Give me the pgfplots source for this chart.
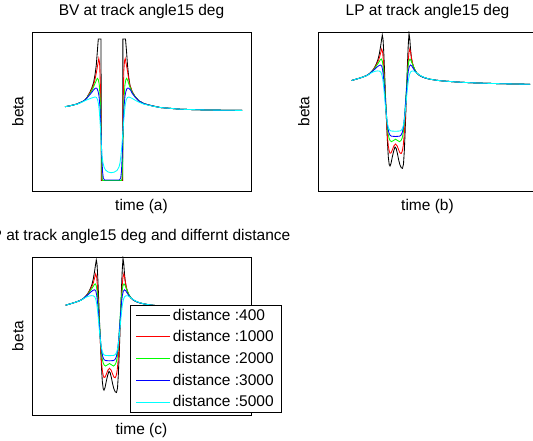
\documentclass[border=0pt]{standalone}
\usepackage{fontspec}
\setmainfont{Liberation Sans}
\usepackage{pgfplots}
\usepackage{pgfplotstable}
\pgfplotsset{compat=1.18}
\definecolor{mblack}{rgb}{0,0,0}
\definecolor{mred}{rgb}{1,0,0}
\definecolor{mgreen}{rgb}{0,1,0}
\definecolor{mblue}{rgb}{0,0,1}
\definecolor{mcyan}{rgb}{0,1,1}

% ---------------- BV data ----------------
\pgfplotstableread{
x y
33 84.3
37 85
41.3 86
45 87
48 88.3
51 89.7
53 91
55 93.5
56.3 96
58 99
59.7 102.7
61.5 108
63 116
64.3 126
65.3 139
66.3 152
69 152
69.3 10.5
90.6 10.5
90.9 152
93.5 152
94.5 140
95.5 126
96.7 114
98 105.5
100.3 99
103 94.5
107 90
112 87.3
118.7 85.5
128 83.5
140 82.5
148 81.8
160 81.4
175 81
190 80.8
210 80.6
}\bvA
\pgfplotstableread{
x y
33 84.3
37 85
41.3 86
45 87
48 88.3
51 89.7
53 91
55 93.5
56.3 95.8
58 98.5
59.7 101.5
61.5 106
63 111.5
64.3 118
65.5 125
66.8 132.5
67.6 128
68.4 105
69 70
69.5 30
69.9 10.5
90.2 10.5
90.7 40
91.2 90
91.8 120
92.5 130
93.2 132.5
94.2 127
95.5 120
96.7 112
98 105
100.3 99
103 94.5
107 90
112 87.3
118.7 85.5
128 83.5
140 82.5
148 81.8
160 81.4
175 81
190 80.8
210 80.6
}\bvB
\pgfplotstableread{
x y
33 84.3
37 85
41.3 86
45 87
48 88.3
51 89.7
53 91
55 93.3
56.3 95.2
58 97.5
59.7 100
61.5 104
63 107.5
64.3 110.5
65.3 112.7
66.3 111.5
67.3 106
68.3 90
69 60
69.6 30
70.2 12
70.8 10.5
89.4 10.5
90 12
90.6 30
91.2 60
91.9 90
92.9 106
93.9 111.5
94.7 112.7
95.7 110.5
97 106.5
98.5 102.5
100.3 98.5
103 94.5
107 90
112 87.3
118.7 85.5
128 83.5
140 82.5
148 81.8
160 81.4
175 81
190 80.8
210 80.6
}\bvC
\pgfplotstableread{
x y
33 84.3
37 85
41.3 86
45 87
48 88.3
51 89.7
53 91
55 93
56.3 94.5
58 96.5
59.7 98.5
61.5 101
63 102.5
64 103
65 102.5
66 100
67 95
68 84
69 60
69.8 35
70.5 20
71.3 13
72.5 11
87.5 11
88.7 13
89.5 20
90.2 35
91 60
92 84
93 95
94 100
95 102.5
96 103
97 102.5
98.5 101
100.3 97.5
103 94
107 90
112 87.3
118.7 85.5
128 83.5
140 82.5
148 81.8
160 81.4
175 81
190 80.8
210 80.6
}\bvD
\pgfplotstableread{
x y
33 84.3
37 85
41.3 86
45 86.8
48 88
51 89.3
53 90.3
56.3 91.7
59.7 93
62 93.8
63.3 94
64.5 93.5
65.5 91.5
66.5 87
67.5 78
68.5 62
69.3 46
70 35
71 28
72 24
73.5 21
76 19
79 18.3
82 18.8
85 20.5
87 24
88 28
89 36
90 47
91 61
92.2 76
93.2 86
94.3 91.5
95.5 93.5
96.7 94
98 93.6
100.3 92.5
103.7 90.5
107 88.8
112 86.8
118.7 85.3
128 83.5
140 82.5
148 81.8
160 81.4
175 81
190 80.8
210 80.6
}\bvE

% ---------------- LP data ----------------
\pgfplotstableread{
x y
33.7 110.5
38 111.8
42 113
45.5 114.2
48.7 115.5
51.5 117.3
53.7 119.5
55.5 121.8
57 124.3
58.5 127.5
60 131.5
61.3 137
62.5 144
63.5 151
64.3 156
65 152
65.7 140
66.5 121
67.3 100
68 82
68.7 66
69.5 48
70.3 34
71.2 26.5
72 25
73 27.5
74.3 34
75.8 40.5
77 44
78.2 42.5
79.5 37
80.8 30.5
82 26
83.3 23.2
84.5 22.7
85.5 27
86.3 40
87 56
87.8 78
88.6 102
89.4 125
90.2 145
91 157.7
91.8 152
92.5 142
93.3 134
94.3 128
95.5 124
97 120.5
99 117.7
101.5 115.6
104.5 114
108 112.8
112 111.8
118 110.8
125 110
132 109.5
142 108.8
152 108.3
162 107.9
172 107.6
182 107.3
192 107.1
202 106.9
212 106.7
}\lpA
\pgfplotstableread{
x y
33.7 110.5
38 111.8
42 113
45.5 114.2
48.7 115.5
51.5 117.3
53.7 119.5
55.5 121.5
57 123.8
58.5 126.5
60 129.5
61.3 133
62.5 137.5
63.7 142
64.6 139
65.4 130
66.2 116
67 100
67.8 84
68.6 68
69.4 55
70.3 45
71.2 40
72 37.8
73 38
74.3 41
75.8 45
77.5 47
79.2 45
80.7 41
82 38
83.2 37.5
84.2 39.5
85.2 45
86.1 55
87 68
87.8 84
88.6 100
89.4 116
90.2 130
91 139
91.8 142
92.7 138
93.5 133
94.5 128
95.7 124
97 120.7
99 117.7
101.5 115.6
104.5 114
108 112.8
112 111.8
118 110.8
125 110
132 109.5
142 108.8
152 108.3
162 107.9
172 107.6
182 107.3
192 107.1
202 106.9
212 106.7
}\lpB
\pgfplotstableread{
x y
33.7 110.5
38 111.8
42 113
45.5 114.2
48.7 115.5
51.5 117.3
53.7 119.4
55.5 121
57 123
58.5 125.3
60 127.5
61.3 129.5
62.3 131.2
63.3 132
64.3 130
65.2 124
66 115
66.8 103
67.6 90
68.4 77
69.2 66
70 58
71 53
72 50.5
73.5 49.3
75.5 50.5
77.5 51.8
79.5 50.5
81.5 49.3
83 50.5
84.2 53
85.2 58
86 66
86.8 77
87.6 90
88.4 103
89.2 115
90 124
90.9 130
92 132
93 130.5
94 128
95.5 124.5
97 121
99 117.7
101.5 115.6
104.5 114
108 112.8
112 111.8
118 110.8
125 110
132 109.5
142 108.8
152 108.3
162 107.9
172 107.6
182 107.3
192 107.1
202 106.9
212 106.7
}\lpC
\pgfplotstableread{
x y
33.7 110.5
38 111.8
42 113
45.5 114.2
48.7 115.5
51.5 117.3
53.7 119.3
55.5 120.7
57 122
58.5 123.5
60 124.7
61.5 125.7
62.8 126
63.9 124.5
64.8 120
65.7 112
66.5 102
67.3 91
68.1 80
68.9 71
69.8 63.5
70.8 58.5
72 55.8
73.5 54.8
77.5 54.5
81.5 54.8
83 55.8
84.3 58.5
85.3 63.5
86.2 71
87 80
87.8 91
88.6 102
89.4 112
90.3 120
91.3 124.5
92.5 126
93.8 125
95.3 122.5
97 120
99 117.8
101.5 115.7
104.5 114
108 112.8
112 111.8
118 110.8
125 110
132 109.5
142 108.8
152 108.3
162 107.9
172 107.6
182 107.3
192 107.1
202 106.9
212 106.7
}\lpD
\pgfplotstableread{
x y
33.7 110.5
38 111.8
42 113
45.5 114.2
48.7 115.3
51.5 117
53.7 118.3
55.5 119.2
57.5 119.8
59.5 120.1
61.3 119.9
62.7 119
63.8 116.5
64.8 111.5
65.7 104
66.5 95
67.3 86
68.2 77
69.1 69.5
70.2 64
71.5 61
73 60
77.5 59.7
82 60
83.5 61
85 64
86.1 69.5
87 77
87.9 86
88.7 95
89.6 104
90.5 111.5
91.5 116.5
92.6 119
94 120
95.5 120
97 119.2
99 117.8
101.5 116
104.5 114.3
108 113
112 111.8
118 110.8
125 110
132 109.5
142 108.8
152 108.3
162 107.9
172 107.6
182 107.3
192 107.1
202 106.9
212 106.7
}\lpE

\pgfplotsset{panel/.style={
  scale only axis, anchor=south west,
  width=219pt, height=159pt,
  xmin=0, xmax=219, ymin=0, ymax=159,
  xtick=\empty, ytick=\empty,
  axis line style={line width=0.8pt},
  font=\fontsize{15.5}{18}\selectfont,
  title style={at={(axis description cs:0.5,1.069)}, anchor=base},
  xlabel style={at={(axis description cs:0.5,-0.124)}, anchor=base},
  ylabel style={at={(axis description cs:-0.0397,0.5)}, anchor=base},
  ylabel={beta},
  every axis plot/.append style={line width=0.85pt},
}}

\begin{document}
\begin{tikzpicture}[x=1pt,y=1pt]
\path[use as bounding box] (0,0) rectangle (533,441);

\begin{axis}[panel, at={(32pt,250pt)},
  title={BV at track angle15 deg}, xlabel={time (a)}]
\addplot[color=mblack] table {\bvA};
\addplot[color=mred] table {\bvB};
\addplot[color=mgreen] table {\bvC};
\addplot[color=mblue] table {\bvD};
\addplot[color=mcyan] table {\bvE};
\end{axis}

\begin{axis}[panel, at={(318pt,250pt)},
  title={LP at track angle15 deg}, xlabel={time (b)}]
\addplot[color=mblack] table {\lpA};
\addplot[color=mred] table {\lpB};
\addplot[color=mgreen] table {\lpC};
\addplot[color=mblue] table {\lpD};
\addplot[color=mcyan] table {\lpE};
\end{axis}

\begin{axis}[panel, at={(32pt,26pt)}, height=158pt,
  title style={at={(axis description cs:0.478,1.069)}, anchor=base},
  title={LP at track angle15 deg and differnt distance}, xlabel={time (c)},
  legend image post style={xscale=2.0, line width=1.1pt},
  legend cell align=left,
  legend style={at={(axis description cs:0.4495,0.0146)}, anchor=south west,
    inner xsep=5pt, inner ysep=2pt, row sep=5pt,
    nodes={inner sep=2pt},
    font=\fontsize{15.5}{18}\selectfont}]
\addplot[color=mblack] table {\lpA};
\addlegendentry{distance :400}
\addplot[color=mred] table {\lpB};
\addlegendentry{distance :1000}
\addplot[color=mgreen] table {\lpC};
\addlegendentry{distance :2000}
\addplot[color=mblue] table {\lpD};
\addlegendentry{distance :3000}
\addplot[color=mcyan] table {\lpE};
\addlegendentry{distance :5000}
\end{axis}
\end{tikzpicture}
\end{document}
